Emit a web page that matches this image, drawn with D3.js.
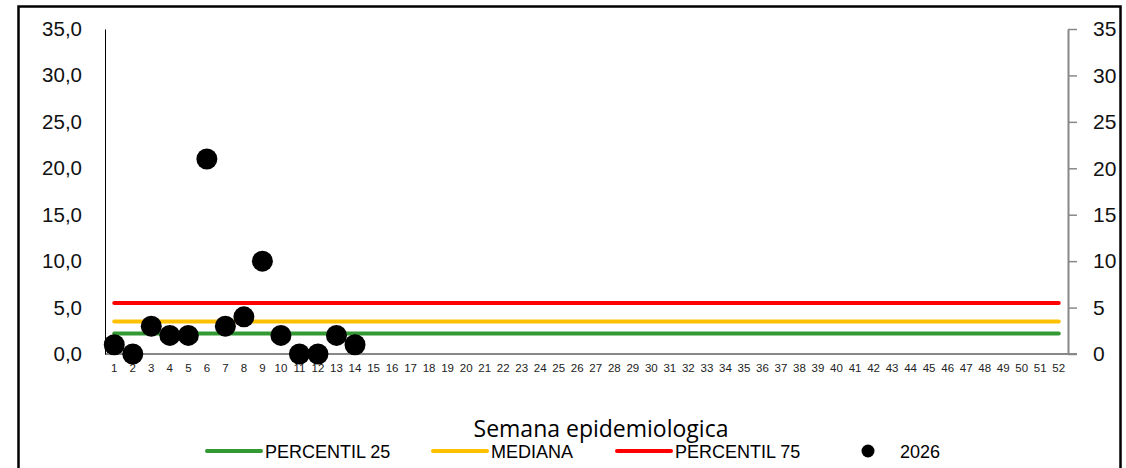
<!DOCTYPE html>
<html><head><meta charset="utf-8">
<script src="https://cdn.jsdelivr.net/npm/d3@7/dist/d3.min.js"></script>
<style>body{margin:0;background:#fff}svg{display:block}</style>
</head><body>
<svg id="c" width="1126" height="468"></svg>
<script>
const weeks = d3.range(1, 53).map(String);
const weeks2026 = ["1","2","3","4","5","6","7","8","9","10","11","12","13","14"];
const values2026 = [1,0,3,2,2,21,3,4,10,2,0,0,2,1];
const percentil25 = 2.2;
const mediana = 3.5;
const percentil75 = 5.5;
const leftTicks = [0,5,10,15,20,25,30,35];
const rightTicks = [0,5,10,15,20,25,30,35];
const legendLabels = ["PERCENTIL 25","MEDIANA","PERCENTIL 75","2026"];

const svg = d3.select("#c");
svg.append("rect").attr("x",18.5).attr("y",6.5).attr("width",1102).attr("height",470)
  .attr("fill","none").attr("stroke","#000").attr("stroke-width",2.5);

const x = d3.scaleBand().domain(weeks).range([105,1068]);
const y = d3.scaleLinear().domain([0,35]).range([354,29]);

// x axis
const gx = svg.append("g").attr("transform","translate(0,354)")
  .call(d3.axisBottom(x).tickSize(0).tickPadding(10));
gx.select(".domain").attr("stroke","#888").attr("stroke-width",2).attr("d","M105,0H1077");
gx.selectAll("text").attr("font-family","Liberation Sans, Arial").attr("font-size",11.5).attr("fill","#222");

// left axis
const gl = svg.append("g").attr("transform","translate(105,0)")
  .call(d3.axisLeft(y).tickValues(leftTicks).tickSize(0).tickPadding(23)
    .tickFormat(d=>d3.format(".1f")(d).replace(".",",")));
gl.select(".domain").attr("stroke","#000").attr("stroke-width",1);
gl.selectAll("text").attr("font-family","Liberation Sans, Arial").attr("font-size",20.5).attr("fill","#111");

// right axis
const gr = svg.append("g").attr("transform","translate(1068,0)")
  .call(d3.axisRight(y).tickValues(rightTicks).tickSize(9).tickSizeOuter(0).tickPadding(16));
gr.select(".domain").attr("stroke","#888").attr("stroke-width",2);
gr.selectAll(".tick line").attr("stroke","#888").attr("stroke-width",1.5);
gr.selectAll("text").attr("font-family","Liberation Sans, Arial").attr("font-size",21).attr("fill","#111");

// reference lines
const cx = d => x(d) + x.bandwidth()/2;
const lines = [[percentil25,"#339933"],[mediana,"#FFC000"],[percentil75,"#FF0000"]];
lines.forEach(([v,c])=>{
  svg.append("path").datum(weeks)
    .attr("d", d3.line().x(cx).y(()=>y(v)))
    .attr("fill","none").attr("stroke",c).attr("stroke-width",4).attr("stroke-linecap","round");
});

// points
svg.append("g").selectAll("circle").data(weeks2026.map((w,i)=>[w,values2026[i]])).join("circle")
  .attr("cx",d=>cx(d[0])).attr("cy",d=>y(d[1])).attr("r",10.5).attr("fill","#000");

// axis title
svg.append("text").attr("x",601).attr("y",437).attr("text-anchor","middle")
  .attr("font-family","Open Sans, sans-serif").attr("font-size",23).attr("fill","#000")
  .text("Semana epidemiologica");

// legend
const lg = svg.append("g").attr("font-family","Liberation Sans, Arial").attr("font-size",18).attr("fill","#000");
const items = [[207,"#339933"],[433,"#FFC000"],[617,"#FF0000"]];
items.forEach(([x0,c],i)=>{
  lg.append("line").attr("x1",x0).attr("x2",x0+54).attr("y1",451).attr("y2",451)
    .attr("stroke",c).attr("stroke-width",4).attr("stroke-linecap","round");
  lg.append("text").attr("x",x0+58).attr("y",458).text(legendLabels[i]);
});
lg.append("circle").attr("cx",868).attr("cy",451).attr("r",6.5).attr("fill","#000");
lg.append("text").attr("x",900).attr("y",458).text(legendLabels[3]);
</script>
</body></html>
